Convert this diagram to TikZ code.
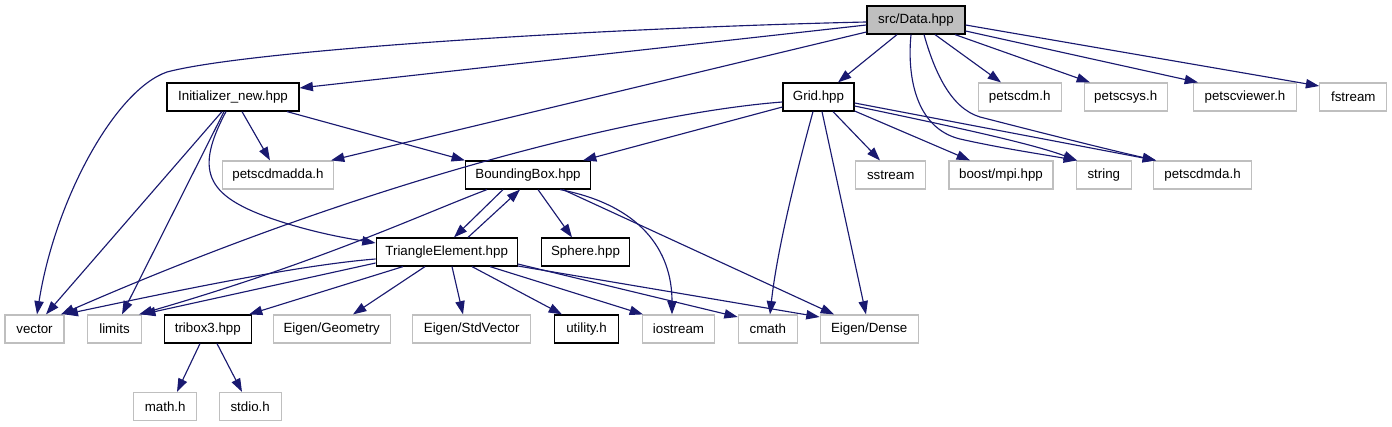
\documentclass[tikz,border=0pt]{standalone}
\usepackage{fontspec}
\setmainfont{Liberation Sans}
\usetikzlibrary{arrows.meta}
\definecolor{edgec}{RGB}{25,25,112}
\definecolor{greyseventyfive}{RGB}{191,191,191}
\begin{document}
\begin{tikzpicture}[x=0.75pt,y=-0.75pt,
  nodebox/.style={draw=black, line width=0.9pt, minimum height=21pt, inner sep=0pt,
    font=\fontsize{10pt}{12pt}\selectfont, text=black},
  extbox/.style={nodebox, draw=greyseventyfive},
  mainbox/.style={nodebox, fill=greyseventyfive},
  deparrow/.style={draw=edgec, line width=0.85pt, -{Triangle[length=10pt,width=7pt]}}
]
\fill[white] (0,0) rectangle (1392,427);
\useasboundingbox (0,0) rectangle (1392,427);

% nodes
\node[mainbox, minimum width=73.5pt] (data) at (916,20) {src/Data.hpp};
\node[nodebox, minimum width=99pt] (init) at (233,97) {Initializer\_new.hpp};
\node[nodebox, minimum width=53.25pt] (grid) at (818.5,97) {Grid.hpp};
\node[extbox, minimum width=62.25pt] (pdm) at (1019.7,97) {petscdm.h};
\node[extbox, minimum width=62.25pt] (psys) at (1125.7,97) {petscsys.h};
\node[extbox, minimum width=77.25pt] (pview) at (1245,97) {petscviewer.h};
\node[extbox, minimum width=50.25pt] (fstream) at (1353.3,97) {fstream};
\node[extbox, minimum width=83.25pt] (pdmadda) at (278,175) {petscdmadda.h};
\node[nodebox, minimum width=93.75pt] (bbox) at (528,175) {BoundingBox.hpp};
\node[extbox, minimum width=52.5pt] (sstream) at (890.7,175) {sstream};
\node[extbox, minimum width=78pt] (boost) at (1001,175) {boost/mpi.hpp};
\node[extbox, minimum width=41.25pt] (string) at (1103.8,175) {string};
\node[extbox, minimum width=73.5pt] (pdmda) at (1202.5,175) {petscdmda.h};
\node[nodebox, minimum width=105.75pt] (tri) at (446.7,252) {TriangleElement.hpp};
\node[nodebox, minimum width=66pt] (sphere) at (585.5,252) {Sphere.hpp};
\node[extbox, minimum width=44.25pt] (vector) at (34.5,329) {vector};
\node[extbox, minimum width=40.5pt] (limits) at (114.5,329) {limits};
\node[nodebox, minimum width=65.25pt] (tribox) at (207.8,329) {tribox3.hpp};
\node[extbox, minimum width=87.75pt] (egeom) at (331.7,329) {Eigen/Geometry};
\node[extbox, minimum width=88.5pt] (estd) at (471.7,329) {Eigen/StdVector};
\node[nodebox, minimum width=48pt] (utility) at (586.5,329) {utility.h};
\node[extbox, minimum width=54pt] (iostream) at (678.5,329) {iostream};
\node[extbox, minimum width=44.25pt] (cmath) at (767.8,329) {cmath};
\node[extbox, minimum width=73.5pt] (edense) at (869.2,329) {Eigen/Dense};
\node[extbox, minimum width=47.25pt] (mathh) at (165.2,406.5) {math.h};
\node[extbox, minimum width=46.5pt] (stdio) at (250.2,406.5) {stdio.h};

% src/Data.hpp
\draw[deparrow] (data.west |- 0,22) .. controls (600,28) and (250,50) .. (167,72)
   .. controls (115,90) and (55,200) .. (vector.north -| 37,0);
\draw[deparrow] (data.west |- 0,25) -- (init.east |- 0,88);
\draw[deparrow] (data.west |- 0,32) -- (pdmadda.north -| 331,0);
\draw[deparrow] (data.south -| 897,0) -- (grid.north -| 838,0);
\draw[deparrow] (data.south -| 935,0) -- (pdm.north -| 1001,0);
\draw[deparrow] (data.south -| 955,0) -- (psys.north -| 1090,0);
\draw[deparrow] (data.east |- 0,31) -- (pview.north -| 1198,0);
\draw[deparrow] (data.east |- 0,25) -- (fstream.west |- 0,86);
\draw[deparrow] (data.south -| 911,0) .. controls (907,75) and (915,128) .. (960,139)
   .. controls (1000,148) and (1040,154) .. (string.north -| 1077,0);
\draw[deparrow] (data.south -| 924,0) .. controls (934,70) and (950,108) .. (980,117)
   .. controls (1050,135) and (1110,150) .. (pdmda.north -| 1156,0);

% Grid.hpp
\draw[deparrow] (grid.west |- 0,102) .. controls (650,112) and (380,175) .. (vector.north -| 61,0);
\draw[deparrow] (grid.west |- 0,107) -- (bbox.north -| 583,0);
\draw[deparrow] (grid.south -| 813,0) .. controls (797,170) and (777,250) .. (cmath.north -| 770,0);
\draw[deparrow] (grid.south -| 822,0) -- (edense.north -| 866,0);
\draw[deparrow] (grid.south -| 833,0) -- (sstream.north -| 880,0);
\draw[deparrow] (grid.east |- 0,111) -- (boost.north -| 970,0);
\draw[deparrow] (grid.east |- 0,106) .. controls (950,126) and (1030,143) .. (string.north -| 1077,0);
\draw[deparrow] (grid.east |- 0,103) -- (pdmda.north -| 1156,0);

% Initializer_new.hpp
\draw[deparrow] (init.south -| 222,0) -- (vector.north -| 46,0);
\draw[deparrow] (init.south -| 224,0) -- (limits.north -| 122,0);
\draw[deparrow] (init.south -| 226,0) .. controls (195,170) and (205,195) .. (270,218)
   .. controls (310,232) and (345,238) .. (tri.west |- 0,243);
\draw[deparrow] (init.south -| 242,0) -- (pdmadda.north -| 270,0);
\draw[deparrow] (init.south -| 287,0) -- (bbox.north west);

% BoundingBox.hpp
\draw[deparrow] (bbox.south -| 503,0) -- (tri.north -| 454,0);
\draw[deparrow] (tri.north -| 468,0) -- (bbox.south -| 520,0);
\draw[deparrow] (bbox.south -| 538,0) -- (sphere.north -| 572,0);
\draw[deparrow] (bbox.south -| 487,0) .. controls (420,215) and (320,262) .. (limits.north -| 139,0);
\draw[deparrow] (bbox.south -| 560,0) .. controls (640,205) and (672,250) .. (iostream.north -| 672,0);
\draw[deparrow] (bbox.south -| 563,0) -- (edense.north -| 834,0);

% TriangleElement.hpp
\draw[deparrow] (tri.west |- 0,259) .. controls (300,265) and (180,290) .. (vector.north east);
\draw[deparrow] (tri.west |- 0,263) -- (limits.north east);
\draw[deparrow] (tri.south -| 403,0) -- (tribox.north -| 249,0);
\draw[deparrow] (tri.south -| 425,0) -- (egeom.north -| 353,0);
\draw[deparrow] (tri.south -| 452,0) -- (estd.north -| 463,0);
\draw[deparrow] (tri.south -| 472,0) -- (utility.north -| 562,0);
\draw[deparrow] (tri.south -| 490,0) -- (iostream.north -| 643,0);
\draw[deparrow] (tri.east |- 0,264) -- (cmath.west |- 0,317);
\draw[deparrow] (tri.east |- 0,266) -- (edense.west |- 0,317);

% tribox3.hpp
\draw[deparrow] (tribox.south -| 200,0) -- (mathh.north -| 177,0);
\draw[deparrow] (tribox.south -| 217,0) -- (stdio.north -| 242,0);
\end{tikzpicture}
\end{document}
